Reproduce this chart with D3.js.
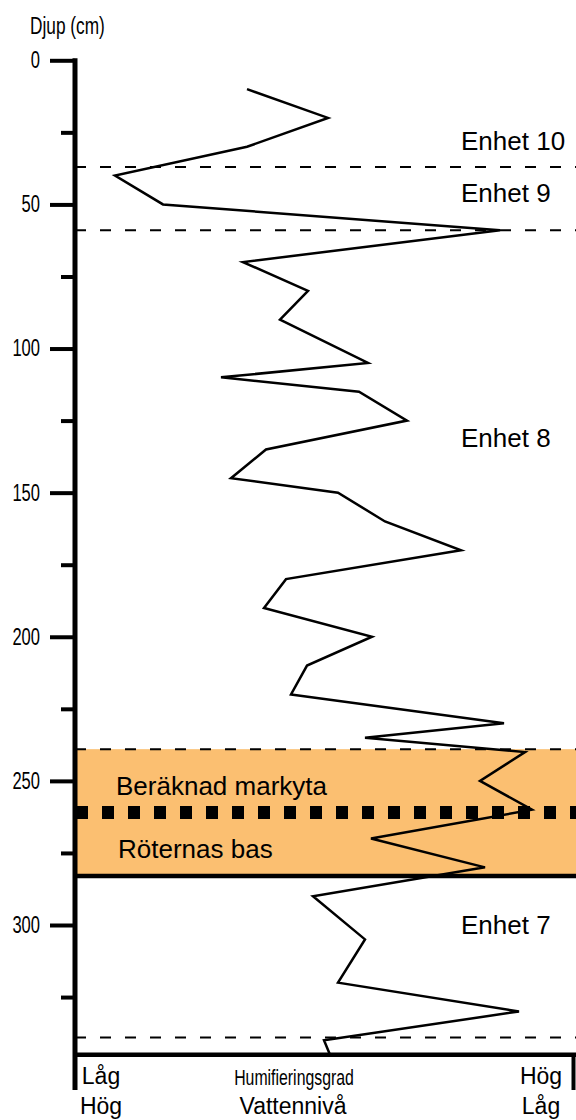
<!DOCTYPE html>
<html>
<head>
<meta charset="utf-8">
<script src="https://cdn.jsdelivr.net/npm/d3@7"></script>
<style>
  body { margin: 0; background: white; }
  svg text { font-family: "Liberation Sans", Arial, sans-serif; }
</style>
</head>
<body>
<div id="container"></div>
<script>
// humification profile (depth in cm, index 0-100 low -> high)
let depths = [10, 20, 30, 40, 50, 59, 70, 80, 90, 105, 110, 115, 125, 135, 145, 150, 160, 170, 180, 190,
              200, 210, 220, 230, 235, 240, 250, 260, 270, 280, 290, 305, 320, 330, 340, 345];
let humification = [34.4, 50.6, 34.4, 8, 17.6, 85, 33.6, 46.6, 41, 58.6, 29.2, 56.8, 66.4, 38.2, 31.2, 52.6, 62, 77.2, 42.2, 37.8,
                    59.4, 46.4, 43.2, 85.8, 58, 90, 81, 91.4, 59.2, 82, 47.6, 58, 52.6, 88.8, 49.8, 51];

let majorTicks = [0, 50, 100, 150, 200, 250, 300];
let minorTicks = [25, 75, 125, 175, 225, 275, 325];

let unitBounds = [37, 59, 239, 339];   // dashed boundaries
let bandTop = 239, bandBottom = 283;   // orange zone
let groundLevel = 261;                 // Beräknad markyta
let maxDepth = 345;

let unitLabels = ["Enhet 10", "Enhet 9", "Enhet 8", "Enhet 7"];
let unitLabelDepths = [31, 49, 134, 303];

let w = 576;
let h = 1120;

let viz = d3.select("#container")
  .append("svg")
    .attr("width", w)
    .attr("height", h)
    .style("background-color", "white");

let yScale = d3.scaleLinear().domain([0, 300]).range([60.3, 925]);
let xScale = d3.scaleLinear().domain([0, 100]).range([75, 575]);

let left = xScale(0);
let right = w;

// orange zone
viz.append("rect")
    .attr("x", left)
    .attr("y", yScale(bandTop))
    .attr("width", right - left)
    .attr("height", yScale(bandBottom) - yScale(bandTop))
    .attr("fill", "#fbbf71");

// dashed unit boundaries
viz.selectAll(".bound").data(unitBounds).enter()
  .append("line")
    .classed("bound", true)
    .attr("x1", left)
    .attr("x2", right)
    .attr("y1", d => yScale(d))
    .attr("y2", d => yScale(d))
    .attr("stroke", "black")
    .attr("stroke-width", 2)
    .attr("stroke-dasharray", "11,14");

// ground level (thick dotted)
viz.append("line")
    .attr("x1", left + 1)
    .attr("x2", right)
    .attr("y1", yScale(groundLevel))
    .attr("y2", yScale(groundLevel))
    .attr("stroke", "black")
    .attr("stroke-width", 13)
    .attr("stroke-dasharray", "12,14");

// base of roots
viz.append("line")
    .attr("x1", left)
    .attr("x2", right)
    .attr("y1", yScale(bandBottom))
    .attr("y2", yScale(bandBottom))
    .attr("stroke", "black")
    .attr("stroke-width", 4.5);

// profile line
let profile = depths.map((d, i) => ({depth: d, value: humification[i]}));
let line = d3.line()
    .x(d => xScale(d.value))
    .y(d => yScale(d.depth));

viz.append("path")
    .datum(profile)
    .attr("d", line)
    .attr("fill", "none")
    .attr("stroke", "black")
    .attr("stroke-width", 2.5)
    .attr("stroke-linejoin", "miter");

// y axis
let narrow = 0.72;
let axisG = viz.append("g").attr("transform", "translate(" + left + ",0)");

let majorAxis = d3.axisLeft(yScale).tickValues(majorTicks).tickSize(25).tickPadding(10).tickFormat(d3.format("d"));
let minorAxis = d3.axisLeft(yScale).tickValues(minorTicks).tickSize(14).tickFormat("");

let gMajor = axisG.append("g").call(majorAxis);
let gMinor = axisG.append("g").call(minorAxis);
gMajor.select(".domain").remove();
gMinor.select(".domain").remove();
axisG.selectAll(".tick line").attr("stroke", "black").attr("stroke-width", 4);
gMajor.selectAll(".tick text")
    .attr("fill", "black")
    .style("font-size", "23px")
    .style("font-family", "'Liberation Sans', Arial, sans-serif")
    .attr("x", -35 / narrow)
    .attr("transform", "scale(" + narrow + ",1)");

let axisBottomY = yScale(maxDepth);

// vertical axis line
viz.append("line")
    .attr("x1", left)
    .attr("x2", left)
    .attr("y1", yScale(0) - 2)
    .attr("y2", 1090)
    .attr("stroke", "black")
    .attr("stroke-width", 5);

// bottom axis
viz.append("line")
    .attr("x1", left)
    .attr("x2", right)
    .attr("y1", axisBottomY)
    .attr("y2", axisBottomY)
    .attr("stroke", "black")
    .attr("stroke-width", 4.5);

viz.append("line")
    .attr("x1", 573.5)
    .attr("x2", 573.5)
    .attr("y1", axisBottomY)
    .attr("y2", 1090)
    .attr("stroke", "black")
    .attr("stroke-width", 4);

// axis title
viz.append("text")
    .text("Djup (cm)")
    .attr("transform", "translate(30,34) scale(" + narrow + ",1)")
    .attr("fill", "black")
    .style("font-size", "24px");

// unit labels
viz.selectAll(".unit").data(unitLabels).enter()
  .append("text")
    .classed("unit", true)
    .text(d => d)
    .attr("x", 461)
    .attr("y", (d, i) => yScale(unitLabelDepths[i]))
    .attr("fill", "black")
    .style("font-size", "26px");

viz.append("text")
    .text("Beräknad markyta")
    .attr("x", 116)
    .attr("y", 795)
    .attr("fill", "black")
    .style("font-size", "26px");

viz.append("text")
    .text("Röternas bas")
    .attr("x", 118)
    .attr("y", 858)
    .attr("fill", "black")
    .style("font-size", "26px");

// bottom labels
let bottomRow1 = ["Låg", "Hög"];
let bottomRow2 = ["Hög", "Låg"];
let bottomX = [101, 541];

viz.selectAll(".row1").data(bottomRow1).enter()
  .append("text")
    .classed("row1", true)
    .text(d => d)
    .attr("x", (d, i) => bottomX[i])
    .attr("y", 1084)
    .attr("text-anchor", "middle")
    .attr("fill", "black")
    .style("font-size", "23px");

viz.selectAll(".row2").data(bottomRow2).enter()
  .append("text")
    .classed("row2", true)
    .text(d => d)
    .attr("x", (d, i) => bottomX[i])
    .attr("y", 1114)
    .attr("text-anchor", "middle")
    .attr("fill", "black")
    .style("font-size", "23px");

viz.append("text")
    .text("Humifieringsgrad")
    .attr("transform", "translate(294,1085) scale(" + narrow + ",1)")
    .attr("text-anchor", "middle")
    .attr("fill", "black")
    .style("font-size", "22px");

viz.append("text")
    .text("Vattennivå")
    .attr("x", 293)
    .attr("y", 1114)
    .attr("text-anchor", "middle")
    .attr("fill", "black")
    .style("font-size", "23px");
</script>
</body>
</html>
